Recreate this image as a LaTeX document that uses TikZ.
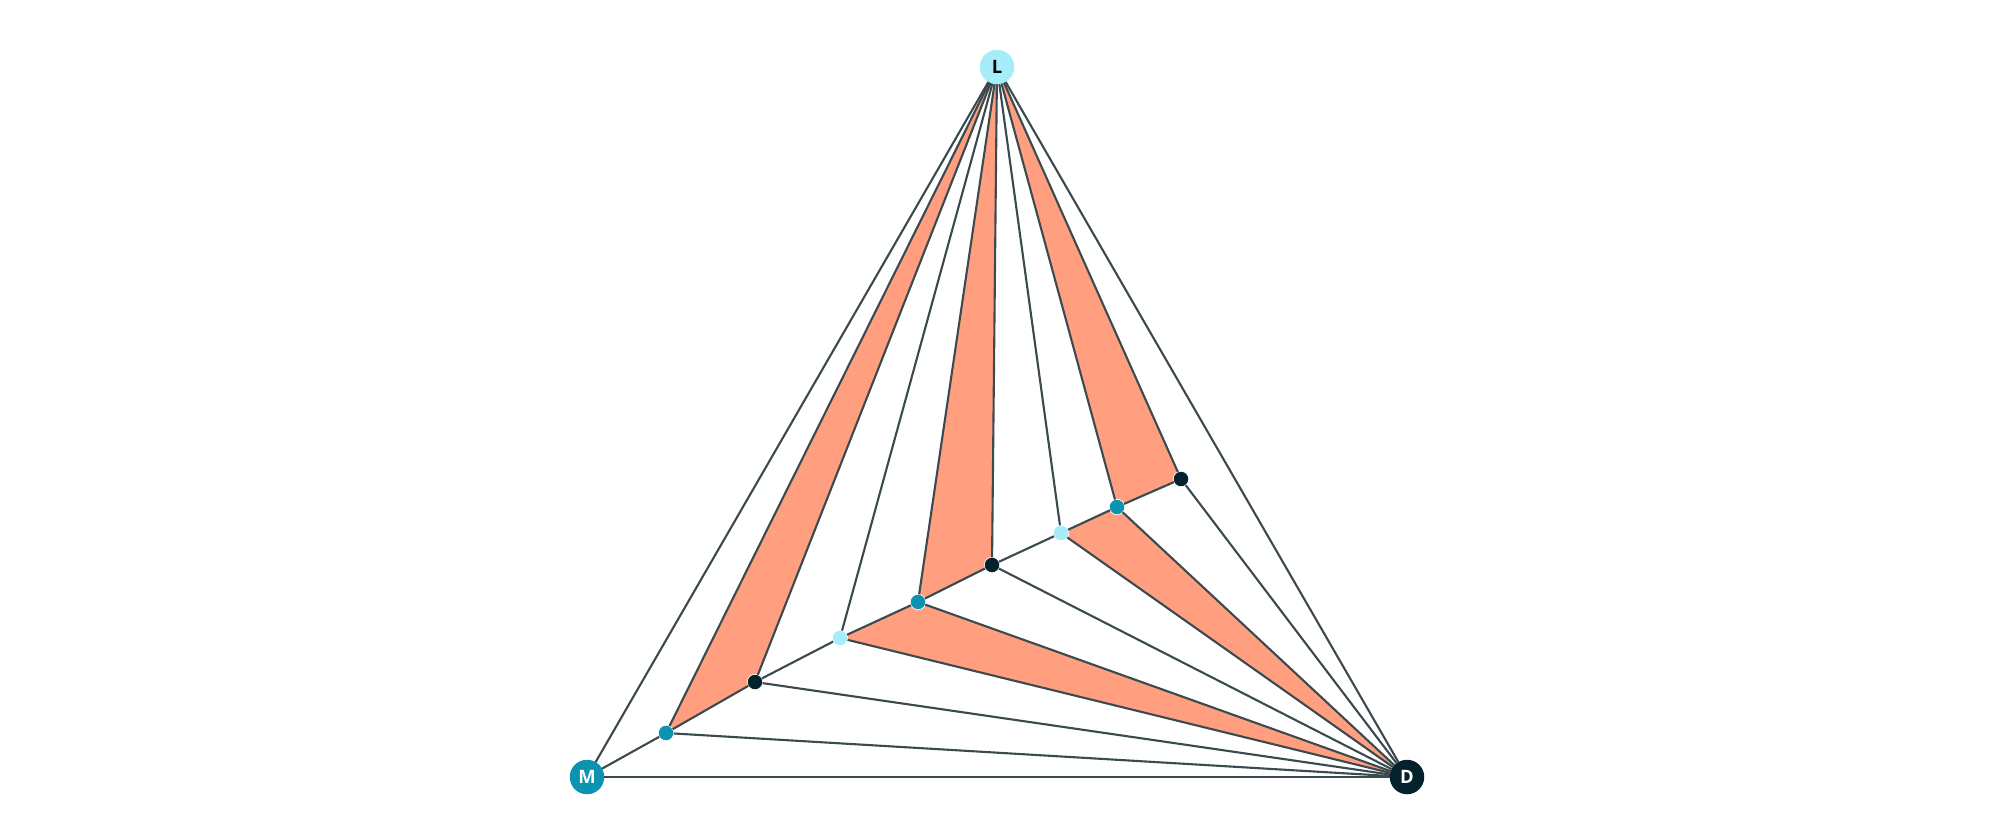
\documentclass[tikz,border=0pt]{standalone}
\usepackage{fontspec}
\setmainfont{Open Sans}
\usetikzlibrary{backgrounds}
\definecolor{lightcyan}{HTML}{A5EEF9}
\definecolor{teal}{HTML}{0B93AF}
\definecolor{darkink}{HTML}{03222B}
\definecolor{salmon}{HTML}{FF9F80}
\definecolor{linegray}{HTML}{3A4A4F}

\begin{document}
\begin{tikzpicture}[x=0.02cm, y=-0.02cm,
  every node/.style={circle, inner sep=0pt, outer sep=0pt},
  corner/.style={minimum size=0.69cm, font=\fontsize{10.5}{10.5}\selectfont\bfseries},
  dot/.style={minimum size=0.31cm, draw=white, line width=0.4pt},
  edge/.style={draw=linegray, line width=1.2pt},
  wedge/.style={fill=salmon}]
\useasboundingbox (0,0) rectangle (2000,826);

% corners
\node[corner, fill=lightcyan, text=black] (L) at (997,67) {L};
\node[corner, fill=teal, text=white] (M) at (587,777) {M};
\node[corner, fill=darkink, text=white] (D) at (1407,777) {D};

% inner points
\node[dot, fill=teal] (p1) at (666,733) {};
\node[dot, fill=darkink] (p2) at (755,682) {};
\node[dot, fill=lightcyan] (p3) at (840,638) {};
\node[dot, fill=teal] (p4) at (918,602) {};
\node[dot, fill=darkink] (p5) at (992,565) {};
\node[dot, fill=lightcyan] (p6) at (1061,533) {};
\node[dot, fill=teal] (p7) at (1117,507) {};
\node[dot, fill=darkink] (p8) at (1181,479) {};

\begin{scope}[on background layer]
\fill[wedge] (L.center) -- (p1.center) -- (p2.center) -- cycle;
\fill[wedge] (L.center) -- (p4.center) -- (p5.center) -- cycle;
\fill[wedge] (L.center) -- (p7.center) -- (p8.center) -- cycle;
\fill[wedge] (D.center) -- (p3.center) -- (p4.center) -- cycle;
\fill[wedge] (D.center) -- (p6.center) -- (p7.center) -- cycle;
\end{scope}

% outer triangle and chain
\draw[edge] (L) -- (M);
\draw[edge] (L) -- (D);
\draw[edge] (M) -- (D);
\draw[edge] (M) -- (p1) -- (p2) -- (p3) -- (p4) -- (p5) -- (p6) -- (p7) -- (p8) -- (D);

% fans
\foreach \p in {p1,p2,p3,p4,p5,p6,p7,p8}
  \draw[edge] (L) -- (\p);
\foreach \p in {p1,p2,p3,p4,p5,p6,p7}
  \draw[edge] (\p) -- (D);
\end{tikzpicture}
\end{document}
